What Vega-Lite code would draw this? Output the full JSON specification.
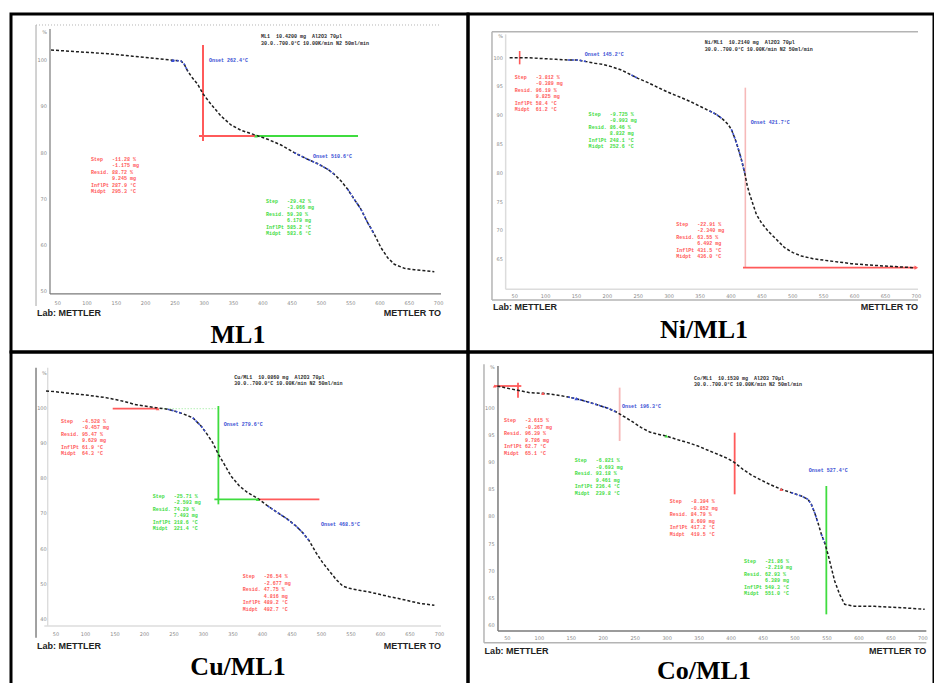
{
"$schema": "https://vega.github.io/schema/vega-lite/v6.json",
"background": "white",
"padding": {"left": 9, "top": 12, "right": 0, "bottom": 0},
"spacing": 0,
"bounds": "flush",
"columns": 2,
"config": {"view": {"stroke": "#000000", "strokeWidth": 3}},
"concat": [
{
"width": 457, "height": 338,
"encoding": {
"x": {"field": "T", "type": "quantitative", "scale": {"domain": [-29.69, 750.18], "nice": false, "zero": false}, "axis": null},
"y": {"field": "W", "type": "quantitative", "scale": {"domain": [36.86, 110.02], "nice": false, "zero": false}, "axis": null},
"color": {"field": "k", "type": "nominal", "legend": null, "scale": {"domain": ["frame","faint","axis","red","green","blue","pink","ltgreen","ink"], "range": ["#b4b4b4","#dcdcdc","#7a7a7a","#ff5a5a","#3fdc3f","#3b4fd4","#f6b9b9","#a6eea6","#2b2b2b"]}}
},
"layer": [
{"data": {"values": [
{"T": 13.0, "W": 107.64, "T2": 13.0, "W2": 46.82, "k": "frame"},
{"T": 36.86, "W": 106.78, "T2": 36.86, "W2": 49.42, "k": "axis"},
{"T": 36.86, "W": 49.42, "T2": 704.1, "W2": 49.42, "k": "axis"}
]}, "mark": {"type": "rule", "strokeWidth": 1.2}, "encoding": {"x2": {"field": "T2"}, "y2": {"field": "W2"}}},
{"data": {"values": [
{"T": 13.0, "W": 107.64, "T2": 704.1, "W2": 107.64, "k": "frame"}
]}, "mark": {"type": "rule", "strokeWidth": 1, "strokeDash": [1, 2]}, "encoding": {"x2": {"field": "T2"}, "y2": {"field": "W2"}}},
{"data": {"values": [
{"T": 298.0, "W": 103.31, "T2": 298.0, "W2": 82.53, "k": "red"},
{"T": 291.1, "W": 83.62, "T2": 388.4, "W2": 83.62, "k": "red"},
{"T": 388.4, "W": 83.62, "T2": 562.5, "W2": 83.62, "k": "green"}
]}, "mark": {"type": "rule", "strokeWidth": 2}, "encoding": {"x2": {"field": "T2"}, "y2": {"field": "W2"}}},
{"data": {"values": [
{"T": 38.6, "W": 102.23}, {"T": 89.8, "W": 101.8}, {"T": 135.3, "W": 101.43}, {"T": 178.0, "W": 100.87}, {"T": 214.9, "W": 100.43}, {"T": 246.3, "W": 100.0}, {"T": 260.4, "W": 99.85}, {"T": 266.0, "W": 99.13}, {"T": 271.8, "W": 97.68}, {"T": 280.4, "W": 96.1}, {"T": 288.9, "W": 94.81}, {"T": 298.5, "W": 92.64}, {"T": 311.6, "W": 90.48}, {"T": 328.7, "W": 87.94}, {"T": 345.7, "W": 86.0}, {"T": 362.8, "W": 84.85}, {"T": 388.4, "W": 83.77}, {"T": 408.4, "W": 82.9}, {"T": 431.1, "W": 81.67}, {"T": 453.8, "W": 80.0}, {"T": 476.6, "W": 78.57}, {"T": 493.7, "W": 77.62}, {"T": 510.8, "W": 76.41}, {"T": 522.0, "W": 75.33}, {"T": 533.5, "W": 73.88}, {"T": 544.9, "W": 72.08}, {"T": 556.1, "W": 69.91}, {"T": 567.6, "W": 67.75}, {"T": 579.0, "W": 64.85}, {"T": 590.3, "W": 62.34}, {"T": 601.7, "W": 59.44}, {"T": 613.1, "W": 57.27}, {"T": 624.4, "W": 55.85}, {"T": 641.5, "W": 54.98}, {"T": 658.5, "W": 54.68}, {"T": 692.7, "W": 54.24}
]}, "mark": {"type": "line", "strokeWidth": 1.5, "strokeDash": [3, 2]}, "encoding": {"color": {"value": "#1e1e1e"}}},
{"data": {"values": [
{"s": "a", "T": 246.3, "W": 100.0}, {"s": "a", "T": 260.4, "W": 99.85}, {"s": "a", "T": 266.0, "W": 99.13}, {"s": "a", "T": 271.8, "W": 97.68},
{"s": "b", "T": 453.8, "W": 80.0}, {"s": "b", "T": 476.6, "W": 78.57}, {"s": "b", "T": 493.7, "W": 77.62}, {"s": "b", "T": 510.8, "W": 76.41}, {"s": "b", "T": 522.0, "W": 75.33},
{"s": "c", "T": 544.9, "W": 72.08}, {"s": "c", "T": 556.1, "W": 69.91}, {"s": "c", "T": 567.6, "W": 67.75}, {"s": "c", "T": 579.0, "W": 64.85}, {"s": "c", "T": 590.3, "W": 62.34}
]}, "mark": {"type": "line", "strokeWidth": 1.6, "strokeDash": [2, 2]}, "encoding": {"color": {"value": "#3b4fd4"}, "detail": {"field": "s"}}},
{"data": {"values": [
{"T": 388.4, "W": 83.62, "k": "green"}, {"T": 246.3, "W": 100.0, "k": "blue"}
]}, "mark": {"type": "point", "shape": "triangle-up", "filled": true, "size": 14, "opacity": 1}},
{"data": {"values": [
{"T": 50, "W": 47.47, "txt": "50"}, {"T": 100, "W": 47.47, "txt": "100"}, {"T": 150, "W": 47.47, "txt": "150"}, {"T": 200, "W": 47.47, "txt": "200"}, {"T": 250, "W": 47.47, "txt": "250"}, {"T": 300, "W": 47.47, "txt": "300"}, {"T": 350, "W": 47.47, "txt": "350"}, {"T": 400, "W": 47.47, "txt": "400"}, {"T": 450, "W": 47.47, "txt": "450"}, {"T": 500, "W": 47.47, "txt": "500"}, {"T": 550, "W": 47.47, "txt": "550"}, {"T": 600, "W": 47.47, "txt": "600"}, {"T": 650, "W": 47.47, "txt": "650"}, {"T": 700, "W": 47.47, "txt": "700"}
]}, "mark": {"type": "text", "font": "DejaVu Sans", "fontSize": 5, "align": "center", "baseline": "middle"}, "encoding": {"text": {"field": "txt"}, "color": {"value": "#8a8a8a"}}},
{"data": {"values": [
{"T": 31.74, "W": 106.13, "txt": "%"}, {"T": 31.74, "W": 100, "txt": "100"}, {"T": 31.74, "W": 90, "txt": "90"}, {"T": 31.74, "W": 80, "txt": "80"}, {"T": 31.74, "W": 70, "txt": "70"}, {"T": 31.74, "W": 60, "txt": "60"}, {"T": 31.74, "W": 50, "txt": "50"}
]}, "mark": {"type": "text", "font": "DejaVu Sans", "fontSize": 5, "align": "right", "baseline": "middle"}, "encoding": {"text": {"field": "txt"}, "color": {"value": "#8a8a8a"}}},
{"data": {"values": [
{"T": 396.9, "W": 105.69, "k": "ink", "txt": "ML1\u00a0\u00a010.4200 mg\u00a0\u00a0Al2O3 70µl\n30.0..700.0°C 10.00K/min N2 50ml/min"},
{"T": 106.8, "W": 79.07, "k": "red", "txt": "Step\u00a0\u00a0\u00a0-11.28 %\n\u200b\u00a0\u00a0\u00a0\u00a0\u00a0\u00a0\u00a0-1.175 mg\nResid. 88.72 %\n\u200b\u00a0\u00a0\u00a0\u00a0\u00a0\u00a0\u00a09.245 mg\nInflPt 287.9 °C\nMidpt\u00a0\u00a0295.3 °C"},
{"T": 405.5, "W": 69.98, "k": "green", "txt": "Step\u00a0\u00a0\u00a0-29.42 %\n\u200b\u00a0\u00a0\u00a0\u00a0\u00a0\u00a0\u00a0-3.066 mg\nResid. 59.30 %\n\u200b\u00a0\u00a0\u00a0\u00a0\u00a0\u00a0\u00a06.179 mg\nInflPt 585.2 °C\nMidpt\u00a0\u00a0583.6 °C"}
]}, "mark": {"type": "text", "font": "Liberation Mono", "fontWeight": "bold", "fontSize": 5, "align": "left", "baseline": "top", "lineBreak": "\n", "lineHeight": 6.5}, "encoding": {"text": {"field": "txt"}}},
{"data": {"values": [
{"T": 308.2, "W": 100.07, "k": "blue", "txt": "Onset 262.4°C"},
{"T": 485.7, "W": 79.29, "k": "blue", "txt": "Onset 510.6°C"}
]}, "mark": {"type": "text", "font": "Liberation Mono", "fontWeight": "bold", "fontSize": 5, "align": "left", "baseline": "middle"}, "encoding": {"text": {"field": "txt"}}},
{"data": {"values": [{"T": 14.7, "W": 45.3, "txt": "Lab: METTLER"}]}, "mark": {"type": "text", "font": "Liberation Sans", "fontWeight": "bold", "fontSize": 9, "align": "left", "baseline": "middle"}, "encoding": {"text": {"field": "txt"}, "color": {"value": "#222222"}}},
{"data": {"values": [{"T": 704.1, "W": 45.3, "txt": "METTLER TO"}]}, "mark": {"type": "text", "font": "Liberation Sans", "fontWeight": "bold", "fontSize": 9, "align": "right", "baseline": "middle"}, "encoding": {"text": {"field": "txt"}, "color": {"value": "#222222"}}},
{"data": {"values": [{"T": 357.7, "W": 38.81, "txt": "ML1"}]}, "mark": {"type": "text", "font": "Liberation Serif", "fontWeight": "bold", "fontSize": 26, "align": "center", "baseline": "alphabetic"}, "encoding": {"text": {"field": "txt"}, "color": {"value": "#000000"}}}
]
},
{
"width": 466, "height": 338,
"encoding": {
"x": {"field": "T", "type": "quantitative", "scale": {"domain": [-25.5, 728.6], "nice": false, "zero": false}, "axis": null},
"y": {"field": "W", "type": "quantitative", "scale": {"domain": [48.9, 107.58], "nice": false, "zero": false}, "axis": null},
"color": {"field": "k", "type": "nominal", "legend": null, "scale": {"domain": ["frame","faint","axis","red","green","blue","pink","ltgreen","ink"], "range": ["#b4b4b4","#dcdcdc","#7a7a7a","#ff5a5a","#3fdc3f","#3b4fd4","#f6b9b9","#a6eea6","#2b2b2b"]}}
},
"layer": [
{"data": {"values": [
{"T": 13.3, "W": 104.51, "T2": 702.7, "W2": 104.51, "k": "frame"},
{"T": 13.3, "W": 104.51, "T2": 13.3, "W2": 57.93, "k": "frame"},
{"T": 13.3, "W": 57.93, "T2": 702.7, "W2": 57.93, "k": "frame"},
{"T": 35.44, "W": 104.05, "T2": 35.44, "W2": 59.78, "k": "faint"},
{"T": 35.44, "W": 59.78, "T2": 702.7, "W2": 59.78, "k": "faint"}
]}, "mark": {"type": "rule", "strokeWidth": 1.5}, "encoding": {"x2": {"field": "T2"}, "y2": {"field": "W2"}}},
{"data": {"values": [
{"T": 58.1, "W": 101.16, "T2": 58.1, "W2": 98.84, "k": "red"},
{"T": 423.3, "W": 94.79, "T2": 423.3, "W2": 63.54, "k": "pink"},
{"T": 419.5, "W": 63.54, "T2": 700.0, "W2": 63.54, "k": "red"}
]}, "mark": {"type": "rule", "strokeWidth": 1.6}, "encoding": {"x2": {"field": "T2"}, "y2": {"field": "W2"}}},
{"data": {"values": [
{"T": 41.9, "W": 100.0}, {"T": 68.9, "W": 100.0}, {"T": 117.4, "W": 99.71}, {"T": 136.3, "W": 99.59}, {"T": 152.5, "W": 99.59}, {"T": 166.0, "W": 99.31}, {"T": 179.5, "W": 99.02}, {"T": 192.9, "W": 98.84}, {"T": 206.4, "W": 98.44}, {"T": 222.6, "W": 97.86}, {"T": 238.8, "W": 96.99}, {"T": 249.6, "W": 96.41}, {"T": 265.8, "W": 95.66}, {"T": 284.6, "W": 94.68}, {"T": 303.5, "W": 93.75}, {"T": 319.7, "W": 93.06}, {"T": 335.9, "W": 92.3}, {"T": 352.1, "W": 91.44}, {"T": 365.5, "W": 90.74}, {"T": 376.3, "W": 90.16}, {"T": 387.1, "W": 89.29}, {"T": 395.2, "W": 88.43}, {"T": 400.6, "W": 87.56}, {"T": 406.0, "W": 86.11}, {"T": 411.4, "W": 84.37}, {"T": 416.8, "W": 82.35}, {"T": 422.2, "W": 80.03}, {"T": 426.5, "W": 77.72}, {"T": 430.3, "W": 76.27}, {"T": 435.7, "W": 74.54}, {"T": 441.1, "W": 72.8}, {"T": 449.2, "W": 71.35}, {"T": 459.9, "W": 69.91}, {"T": 473.4, "W": 68.46}, {"T": 486.9, "W": 67.01}, {"T": 500.4, "W": 66.15}, {"T": 513.9, "W": 65.57}, {"T": 532.8, "W": 65.1}, {"T": 551.6, "W": 64.82}, {"T": 573.2, "W": 64.53}, {"T": 594.8, "W": 64.24}, {"T": 621.8, "W": 64.01}, {"T": 648.7, "W": 63.83}, {"T": 675.7, "W": 63.66}, {"T": 694.6, "W": 63.54}
]}, "mark": {"type": "line", "strokeWidth": 1.5, "strokeDash": [3, 2]}, "encoding": {"color": {"value": "#1e1e1e"}}},
{"data": {"values": [
{"s": "a", "T": 136.3, "W": 99.59}, {"s": "a", "T": 152.5, "W": 99.59}, {"s": "a", "T": 166.0, "W": 99.31},
{"s": "b", "T": 238.8, "W": 96.99}, {"s": "b", "T": 249.6, "W": 96.41},
{"s": "c", "T": 365.5, "W": 90.74}, {"s": "c", "T": 376.3, "W": 90.16}, {"s": "c", "T": 387.1, "W": 89.29},
{"s": "d", "T": 400.6, "W": 87.56}, {"s": "d", "T": 406.0, "W": 86.11}, {"s": "d", "T": 411.4, "W": 84.37}, {"s": "d", "T": 416.8, "W": 82.35}, {"s": "d", "T": 422.2, "W": 80.03}
]}, "mark": {"type": "line", "strokeWidth": 1.6, "strokeDash": [2, 2]}, "encoding": {"color": {"value": "#3b4fd4"}, "detail": {"field": "s"}}},
{"data": {"values": [
{"T": 700.0, "W": 63.54, "k": "red"}
]}, "mark": {"type": "point", "shape": "triangle-right", "filled": true, "size": 18, "opacity": 1}},
{"data": {"values": [
{"T": 50, "W": 58.62, "txt": "50"}, {"T": 100, "W": 58.62, "txt": "100"}, {"T": 150, "W": 58.62, "txt": "150"}, {"T": 200, "W": 58.62, "txt": "200"}, {"T": 250, "W": 58.62, "txt": "250"}, {"T": 300, "W": 58.62, "txt": "300"}, {"T": 350, "W": 58.62, "txt": "350"}, {"T": 400, "W": 58.62, "txt": "400"}, {"T": 450, "W": 58.62, "txt": "450"}, {"T": 500, "W": 58.62, "txt": "500"}, {"T": 550, "W": 58.62, "txt": "550"}, {"T": 600, "W": 58.62, "txt": "600"}, {"T": 650, "W": 58.62, "txt": "650"}, {"T": 700, "W": 58.62, "txt": "700"}
]}, "mark": {"type": "text", "font": "DejaVu Sans", "fontSize": 5, "align": "center", "baseline": "middle"}, "encoding": {"text": {"field": "txt"}, "color": {"value": "#8a8a8a"}}},
{"data": {"values": [
{"T": 31.12, "W": 103.76, "txt": "%"}, {"T": 31.12, "W": 100, "txt": "100"}, {"T": 31.12, "W": 95, "txt": "95"}, {"T": 31.12, "W": 90, "txt": "90"}, {"T": 31.12, "W": 85, "txt": "85"}, {"T": 31.12, "W": 80, "txt": "80"}, {"T": 31.12, "W": 75, "txt": "75"}, {"T": 31.12, "W": 70, "txt": "70"}, {"T": 31.12, "W": 65, "txt": "65"}
]}, "mark": {"type": "text", "font": "DejaVu Sans", "fontSize": 5, "align": "right", "baseline": "middle"}, "encoding": {"text": {"field": "txt"}, "color": {"value": "#8a8a8a"}}},
{"data": {"values": [
{"T": 357.5, "W": 103.01, "k": "ink", "txt": "Ni/ML1\u00a0\u00a010.2140 mg\u00a0\u00a0Al2O3 70µl\n30.0..700.0°C 10.00K/min N2 50ml/min"},
{"T": 50.0, "W": 96.99, "k": "red", "txt": "Step\u00a0\u00a0\u00a0-3.812 %\n\u200b\u00a0\u00a0\u00a0\u00a0\u00a0\u00a0\u00a0-0.389 mg\nResid. 96.19 %\n\u200b\u00a0\u00a0\u00a0\u00a0\u00a0\u00a0\u00a09.825 mg\nInflPt 58.4 °C\nMidpt\u00a0\u00a061.2 °C"},
{"T": 169.7, "W": 90.63, "k": "green", "txt": "Step\u00a0\u00a0\u00a0-9.725 %\n\u200b\u00a0\u00a0\u00a0\u00a0\u00a0\u00a0\u00a0-0.993 mg\nResid. 86.46 %\n\u200b\u00a0\u00a0\u00a0\u00a0\u00a0\u00a0\u00a08.832 mg\nInflPt 248.1 °C\nMidpt\u00a0\u00a0252.6 °C"},
{"T": 311.6, "W": 71.5, "k": "red", "txt": "Step\u00a0\u00a0\u00a0-22.91 %\n\u200b\u00a0\u00a0\u00a0\u00a0\u00a0\u00a0\u00a0-2.340 mg\nResid. 63.55 %\n\u200b\u00a0\u00a0\u00a0\u00a0\u00a0\u00a0\u00a06.492 mg\nInflPt 431.5 °C\nMidpt\u00a0\u00a0436.0 °C"}
]}, "mark": {"type": "text", "font": "Liberation Mono", "fontWeight": "bold", "fontSize": 5, "align": "left", "baseline": "top", "lineBreak": "\n", "lineHeight": 6.5}, "encoding": {"text": {"field": "txt"}}},
{"data": {"values": [
{"T": 163.3, "W": 100.58, "k": "blue", "txt": "Onset 145.2°C"},
{"T": 431.9, "W": 88.89, "k": "blue", "txt": "Onset 421.7°C"}
]}, "mark": {"type": "text", "font": "Liberation Mono", "fontWeight": "bold", "fontSize": 5, "align": "left", "baseline": "middle"}, "encoding": {"text": {"field": "txt"}}},
{"data": {"values": [{"T": 14.9, "W": 56.71, "txt": "Lab: METTLER"}]}, "mark": {"type": "text", "font": "Liberation Sans", "fontWeight": "bold", "fontSize": 9, "align": "left", "baseline": "middle"}, "encoding": {"text": {"field": "txt"}, "color": {"value": "#222222"}}},
{"data": {"values": [{"T": 702.7, "W": 56.71, "txt": "METTLER TO"}]}, "mark": {"type": "text", "font": "Liberation Sans", "fontWeight": "bold", "fontSize": 9, "align": "right", "baseline": "middle"}, "encoding": {"text": {"field": "txt"}, "color": {"value": "#222222"}}},
{"data": {"values": [{"T": 356.4, "W": 51.33, "txt": "Ni/ML1"}]}, "mark": {"type": "text", "font": "Liberation Serif", "fontWeight": "bold", "fontSize": 26, "align": "center", "baseline": "alphabetic"}, "encoding": {"text": {"field": "txt"}, "color": {"value": "#000000"}}}
]
},
{
"width": 457, "height": 334,
"encoding": {
"x": {"field": "T", "type": "quantitative", "scale": {"domain": [-26.3, 748.3], "nice": false, "zero": false}, "axis": null},
"y": {"field": "W", "type": "quantitative", "scale": {"domain": [21.08, 115.78], "nice": false, "zero": false}, "axis": null},
"color": {"field": "k", "type": "nominal", "legend": null, "scale": {"domain": ["frame","faint","axis","red","green","blue","pink","ltgreen","ink"], "range": ["#b4b4b4","#dcdcdc","#7a7a7a","#ff5a5a","#3fdc3f","#3b4fd4","#f6b9b9","#a6eea6","#2b2b2b"]}}
},
"layer": [
{"data": {"values": [
{"T": 16.1, "W": 111.34, "T2": 16.1, "W2": 34.78, "k": "axis"},
{"T": 35.9, "W": 111.34, "T2": 35.9, "W2": 38.09, "k": "faint"},
{"T": 30.2, "W": 38.09, "T2": 702.6, "W2": 38.09, "k": "faint"}
]}, "mark": {"type": "rule", "strokeWidth": 1.4}, "encoding": {"x2": {"field": "T2"}, "y2": {"field": "W2"}}},
{"data": {"values": [
{"T": 222.3, "W": 99.72, "T2": 326.9, "W2": 99.72, "k": "ltgreen"}
]}, "mark": {"type": "rule", "strokeWidth": 1.2, "strokeDash": [1, 2]}, "encoding": {"x2": {"field": "T2"}, "y2": {"field": "W2"}}},
{"data": {"values": [
{"T": 146.1, "W": 99.72, "T2": 222.3, "W2": 99.72, "k": "red"},
{"T": 325.2, "W": 100.47, "T2": 325.2, "W2": 72.59, "k": "green"},
{"T": 318.4, "W": 74.0, "T2": 391.8, "W2": 74.0, "k": "green"},
{"T": 391.8, "W": 74.0, "T2": 496.4, "W2": 74.0, "k": "red"}
]}, "mark": {"type": "rule", "strokeWidth": 1.8}, "encoding": {"x2": {"field": "T2"}, "y2": {"field": "W2"}}},
{"data": {"values": [
{"T": 33.1, "W": 104.73}, {"T": 47.2, "W": 104.54}, {"T": 78.3, "W": 103.97}, {"T": 104.8, "W": 103.5}, {"T": 134.8, "W": 102.84}, {"T": 154.5, "W": 102.17}, {"T": 168.7, "W": 101.61}, {"T": 182.8, "W": 100.95}, {"T": 199.7, "W": 100.47}, {"T": 219.5, "W": 100.0}, {"T": 239.3, "W": 99.53}, {"T": 250.6, "W": 99.05}, {"T": 264.7, "W": 98.3}, {"T": 281.7, "W": 97.16}, {"T": 295.8, "W": 94.8}, {"T": 304.3, "W": 92.91}, {"T": 315.6, "W": 90.08}, {"T": 325.2, "W": 86.77}, {"T": 335.3, "W": 83.93}, {"T": 346.6, "W": 80.62}, {"T": 360.8, "W": 77.79}, {"T": 374.9, "W": 75.9}, {"T": 391.8, "W": 74.29}, {"T": 408.8, "W": 72.12}, {"T": 425.7, "W": 70.23}, {"T": 442.7, "W": 68.34}, {"T": 456.8, "W": 66.44}, {"T": 468.1, "W": 64.56}, {"T": 479.4, "W": 62.19}, {"T": 490.7, "W": 58.88}, {"T": 502.0, "W": 56.05}, {"T": 513.3, "W": 53.69}, {"T": 524.6, "W": 51.32}, {"T": 535.9, "W": 49.43}, {"T": 547.2, "W": 48.77}, {"T": 564.2, "W": 48.2}, {"T": 581.1, "W": 47.73}, {"T": 598.1, "W": 47.07}, {"T": 615.0, "W": 46.41}, {"T": 632.0, "W": 45.84}, {"T": 648.9, "W": 45.18}, {"T": 665.9, "W": 44.52}, {"T": 691.3, "W": 43.95}
]}, "mark": {"type": "line", "strokeWidth": 1.5, "strokeDash": [3, 2]}, "encoding": {"color": {"value": "#1e1e1e"}}},
{"data": {"values": [
{"s": "a", "T": 239.3, "W": 99.53}, {"s": "a", "T": 250.6, "W": 99.05}, {"s": "a", "T": 264.7, "W": 98.3},
{"s": "b", "T": 281.7, "W": 97.16}, {"s": "b", "T": 295.8, "W": 94.8}, {"s": "b", "T": 304.3, "W": 92.91},
{"s": "c", "T": 408.8, "W": 72.12}, {"s": "c", "T": 425.7, "W": 70.23}, {"s": "c", "T": 442.7, "W": 68.34}, {"s": "c", "T": 456.8, "W": 66.44}, {"s": "c", "T": 468.1, "W": 64.56}, {"s": "c", "T": 479.4, "W": 62.19}
]}, "mark": {"type": "line", "strokeWidth": 1.6, "strokeDash": [2, 2]}, "encoding": {"color": {"value": "#3b4fd4"}, "detail": {"field": "s"}}},
{"data": {"values": [
{"T": 222.3, "W": 99.72, "k": "red"}, {"T": 391.8, "W": 74.0, "k": "green"}
]}, "mark": {"type": "point", "shape": "triangle-up", "filled": true, "size": 14, "opacity": 1}},
{"data": {"values": [
{"T": 50, "W": 35.91, "txt": "50"}, {"T": 100, "W": 35.91, "txt": "100"}, {"T": 150, "W": 35.91, "txt": "150"}, {"T": 200, "W": 35.91, "txt": "200"}, {"T": 250, "W": 35.91, "txt": "250"}, {"T": 300, "W": 35.91, "txt": "300"}, {"T": 350, "W": 35.91, "txt": "350"}, {"T": 400, "W": 35.91, "txt": "400"}, {"T": 450, "W": 35.91, "txt": "450"}, {"T": 500, "W": 35.91, "txt": "500"}, {"T": 550, "W": 35.91, "txt": "550"}, {"T": 600, "W": 35.91, "txt": "600"}, {"T": 650, "W": 35.91, "txt": "650"}, {"T": 700, "W": 35.91, "txt": "700"}
]}, "mark": {"type": "text", "font": "DejaVu Sans", "fontSize": 5, "align": "center", "baseline": "middle"}, "encoding": {"text": {"field": "txt"}, "color": {"value": "#8a8a8a"}}},
{"data": {"values": [
{"T": 34.2, "W": 109.92, "txt": "%"}, {"T": 34.2, "W": 100, "txt": "100"}, {"T": 34.2, "W": 90, "txt": "90"}, {"T": 34.2, "W": 80, "txt": "80"}, {"T": 34.2, "W": 70, "txt": "70"}, {"T": 34.2, "W": 60, "txt": "60"}, {"T": 34.2, "W": 50, "txt": "50"}, {"T": 34.2, "W": 40, "txt": "40"}
]}, "mark": {"type": "text", "font": "DejaVu Sans", "fontSize": 5, "align": "right", "baseline": "middle"}, "encoding": {"text": {"field": "txt"}, "color": {"value": "#8a8a8a"}}},
{"data": {"values": [
{"T": 352.3, "W": 109.4, "k": "ink", "txt": "Cu/ML1\u00a0\u00a010.0860 mg\u00a0\u00a0Al2O3 70µl\n30.0..700.0°C 10.00K/min N2 50ml/min"},
{"T": 58.5, "W": 96.79, "k": "red", "txt": "Step\u00a0\u00a0\u00a0-4.528 %\n\u200b\u00a0\u00a0\u00a0\u00a0\u00a0\u00a0\u00a0-0.457 mg\nResid. 95.47 %\n\u200b\u00a0\u00a0\u00a0\u00a0\u00a0\u00a0\u00a09.629 mg\nInflPt 61.9 °C\nMidpt\u00a0\u00a064.3 °C"},
{"T": 213.9, "W": 75.66, "k": "green", "txt": "Step\u00a0\u00a0\u00a0-25.71 %\n\u200b\u00a0\u00a0\u00a0\u00a0\u00a0\u00a0\u00a0-2.593 mg\nResid. 74.29 %\n\u200b\u00a0\u00a0\u00a0\u00a0\u00a0\u00a0\u00a07.493 mg\nInflPt 318.6 °C\nMidpt\u00a0\u00a0321.4 °C"},
{"T": 366.4, "W": 52.83, "k": "red", "txt": "Step\u00a0\u00a0\u00a0-26.54 %\n\u200b\u00a0\u00a0\u00a0\u00a0\u00a0\u00a0\u00a0-2.677 mg\nResid. 47.75 %\n\u200b\u00a0\u00a0\u00a0\u00a0\u00a0\u00a0\u00a04.816 mg\nInflPt 489.2 °C\nMidpt\u00a0\u00a0492.7 °C"}
]}, "mark": {"type": "text", "font": "Liberation Mono", "fontWeight": "bold", "fontSize": 5, "align": "left", "baseline": "top", "lineBreak": "\n", "lineHeight": 6.5}, "encoding": {"text": {"field": "txt"}}},
{"data": {"values": [
{"T": 334.2, "W": 95.27, "k": "blue", "txt": "Onset 279.6°C"},
{"T": 499.2, "W": 67.11, "k": "blue", "txt": "Onset 468.5°C"}
]}, "mark": {"type": "text", "font": "Liberation Mono", "fontWeight": "bold", "fontSize": 5, "align": "left", "baseline": "middle"}, "encoding": {"text": {"field": "txt"}}},
{"data": {"values": [{"T": 17.8, "W": 32.42, "txt": "Lab: METTLER"}]}, "mark": {"type": "text", "font": "Liberation Sans", "fontWeight": "bold", "fontSize": 9, "align": "left", "baseline": "middle"}, "encoding": {"text": {"field": "txt"}, "color": {"value": "#222222"}}},
{"data": {"values": [{"T": 702.6, "W": 32.42, "txt": "METTLER TO"}]}, "mark": {"type": "text", "font": "Liberation Sans", "fontWeight": "bold", "fontSize": 9, "align": "right", "baseline": "middle"}, "encoding": {"text": {"field": "txt"}, "color": {"value": "#222222"}}},
{"data": {"values": [{"T": 358.5, "W": 24.19, "txt": "Cu/ML1"}]}, "mark": {"type": "text", "font": "Liberation Serif", "fontWeight": "bold", "fontSize": 26, "align": "center", "baseline": "alphabetic"}, "encoding": {"text": {"field": "txt"}, "color": {"value": "#000000"}}}
]
},
{
"width": 466, "height": 334,
"encoding": {
"x": {"field": "T", "type": "quantitative", "scale": {"domain": [-11.5, 717.4], "nice": false, "zero": false}, "axis": null},
"y": {"field": "W", "type": "quantitative", "scale": {"domain": [48.84, 110.23], "nice": false, "zero": false}, "axis": null},
"color": {"field": "k", "type": "nominal", "legend": null, "scale": {"domain": ["frame","faint","axis","red","green","blue","pink","ltgreen","ink"], "range": ["#b4b4b4","#dcdcdc","#7a7a7a","#ff5a5a","#3fdc3f","#3b4fd4","#f6b9b9","#a6eea6","#2b2b2b"]}}
},
"layer": [
{"data": {"values": [
{"T": 13.5, "W": 107.97, "T2": 13.5, "W2": 56.8, "k": "frame"},
{"T": 13.5, "W": 56.8, "T2": 705.4, "W2": 56.8, "k": "frame"},
{"T": 35.4, "W": 107.66, "T2": 35.4, "W2": 58.95, "k": "axis"},
{"T": 35.4, "W": 58.95, "T2": 705.4, "W2": 58.95, "k": "axis"}
]}, "mark": {"type": "rule", "strokeWidth": 1.5}, "encoding": {"x2": {"field": "T2"}, "y2": {"field": "W2"}}},
{"data": {"values": [
{"T": 30.2, "W": 103.98, "T2": 71.9, "W2": 103.98, "k": "red"},
{"T": 66.7, "W": 104.6, "T2": 66.7, "W2": 101.84, "k": "red"},
{"T": 225.7, "W": 103.68, "T2": 225.7, "W2": 93.87, "k": "pink"},
{"T": 405.6, "W": 95.4, "T2": 405.6, "W2": 84.07, "k": "red"},
{"T": 549.0, "W": 85.6, "T2": 549.0, "W2": 62.01, "k": "green"}
]}, "mark": {"type": "rule", "strokeWidth": 1.8}, "encoding": {"x2": {"field": "T2"}, "y2": {"field": "W2"}}},
{"data": {"values": [
{"T": 34.4, "W": 103.98}, {"T": 51.0, "W": 103.55}, {"T": 66.7, "W": 103.19}, {"T": 84.9, "W": 102.76}, {"T": 105.8, "W": 102.63}, {"T": 124.0, "W": 102.39}, {"T": 144.9, "W": 101.96}, {"T": 157.9, "W": 101.65}, {"T": 176.2, "W": 101.04}, {"T": 191.8, "W": 100.49}, {"T": 207.5, "W": 99.88}, {"T": 220.5, "W": 99.2}, {"T": 230.9, "W": 98.47}, {"T": 244.0, "W": 97.55}, {"T": 259.6, "W": 96.32}, {"T": 272.6, "W": 95.53}, {"T": 285.7, "W": 95.1}, {"T": 298.7, "W": 94.79}, {"T": 314.4, "W": 94.18}, {"T": 332.6, "W": 93.57}, {"T": 348.2, "W": 92.95}, {"T": 363.9, "W": 92.16}, {"T": 379.5, "W": 91.42}, {"T": 395.2, "W": 90.63}, {"T": 405.6, "W": 89.89}, {"T": 418.6, "W": 88.66}, {"T": 431.7, "W": 87.62}, {"T": 444.7, "W": 86.83}, {"T": 460.3, "W": 85.91}, {"T": 478.6, "W": 84.99}, {"T": 494.2, "W": 84.38}, {"T": 509.9, "W": 83.76}, {"T": 520.3, "W": 83.15}, {"T": 525.5, "W": 82.23}, {"T": 530.7, "W": 80.7}, {"T": 535.9, "W": 78.86}, {"T": 541.2, "W": 76.72}, {"T": 546.4, "W": 75.19}, {"T": 551.6, "W": 73.04}, {"T": 556.8, "W": 70.59}, {"T": 562.0, "W": 68.14}, {"T": 569.8, "W": 65.69}, {"T": 577.7, "W": 63.85}, {"T": 593.3, "W": 63.48}, {"T": 624.6, "W": 63.48}, {"T": 666.3, "W": 63.24}, {"T": 702.8, "W": 62.93}
]}, "mark": {"type": "line", "strokeWidth": 1.5, "strokeDash": [3, 2]}, "encoding": {"color": {"value": "#1e1e1e"}}},
{"data": {"values": [
{"s": "a", "T": 144.9, "W": 101.96}, {"s": "a", "T": 157.9, "W": 101.65}, {"s": "a", "T": 176.2, "W": 101.04}, {"s": "a", "T": 191.8, "W": 100.49}, {"s": "a", "T": 207.5, "W": 99.88}, {"s": "a", "T": 220.5, "W": 99.2},
{"s": "b", "T": 494.2, "W": 84.38}, {"s": "b", "T": 509.9, "W": 83.76}, {"s": "b", "T": 520.3, "W": 83.15}, {"s": "b", "T": 525.5, "W": 82.23}, {"s": "b", "T": 530.7, "W": 80.7}, {"s": "b", "T": 535.9, "W": 78.86},
{"s": "c", "T": 541.2, "W": 76.72}, {"s": "c", "T": 546.4, "W": 75.19}
]}, "mark": {"type": "line", "strokeWidth": 1.6, "strokeDash": [2, 2]}, "encoding": {"color": {"value": "#3b4fd4"}, "detail": {"field": "s"}}},
{"data": {"values": [
{"T": 30.2, "W": 103.98, "k": "red"}, {"T": 105.8, "W": 102.63, "k": "red"}, {"T": 298.7, "W": 94.79, "k": "green"}, {"T": 478.6, "W": 84.99, "k": "red"}, {"T": 157.9, "W": 101.65, "k": "blue"}
]}, "mark": {"type": "point", "shape": "triangle-up", "filled": true, "size": 14, "opacity": 1}},
{"data": {"values": [
{"T": 50, "W": 57.72, "txt": "50"}, {"T": 100, "W": 57.72, "txt": "100"}, {"T": 150, "W": 57.72, "txt": "150"}, {"T": 200, "W": 57.72, "txt": "200"}, {"T": 250, "W": 57.72, "txt": "250"}, {"T": 300, "W": 57.72, "txt": "300"}, {"T": 350, "W": 57.72, "txt": "350"}, {"T": 400, "W": 57.72, "txt": "400"}, {"T": 450, "W": 57.72, "txt": "450"}, {"T": 500, "W": 57.72, "txt": "500"}, {"T": 550, "W": 57.72, "txt": "550"}, {"T": 600, "W": 57.72, "txt": "600"}, {"T": 650, "W": 57.72, "txt": "650"}, {"T": 700, "W": 57.72, "txt": "700"}
]}, "mark": {"type": "text", "font": "DejaVu Sans", "fontSize": 5, "align": "center", "baseline": "middle"}, "encoding": {"text": {"field": "txt"}, "color": {"value": "#8a8a8a"}}},
{"data": {"values": [
{"T": 30.2, "W": 107.47, "txt": "%"}, {"T": 30.2, "W": 100, "txt": "100"}, {"T": 30.2, "W": 95, "txt": "95"}, {"T": 30.2, "W": 90, "txt": "90"}, {"T": 30.2, "W": 85, "txt": "85"}, {"T": 30.2, "W": 80, "txt": "80"}, {"T": 30.2, "W": 75, "txt": "75"}, {"T": 30.2, "W": 70, "txt": "70"}, {"T": 30.2, "W": 65, "txt": "65"}, {"T": 30.2, "W": 60, "txt": "60"}
]}, "mark": {"type": "text", "font": "DejaVu Sans", "fontSize": 5, "align": "right", "baseline": "middle"}, "encoding": {"text": {"field": "txt"}, "color": {"value": "#8a8a8a"}}},
{"data": {"values": [
{"T": 342.0, "W": 105.85, "k": "ink", "txt": "Co/ML1\u00a0\u00a010.1530 mg\u00a0\u00a0Al2O3 70µl\n30.0..700.0°C 10.00K/min N2 50ml/min"},
{"T": 44.8, "W": 98.01, "k": "red", "txt": "Step\u00a0\u00a0\u00a0-3.615 %\n\u200b\u00a0\u00a0\u00a0\u00a0\u00a0\u00a0\u00a0-0.367 mg\nResid. 96.39 %\n\u200b\u00a0\u00a0\u00a0\u00a0\u00a0\u00a0\u00a09.786 mg\nInflPt 62.7 °C\nMidpt\u00a0\u00a065.1 °C"},
{"T": 155.3, "W": 90.66, "k": "green", "txt": "Step\u00a0\u00a0\u00a0-6.821 %\n\u200b\u00a0\u00a0\u00a0\u00a0\u00a0\u00a0\u00a0-0.693 mg\nResid. 93.18 %\n\u200b\u00a0\u00a0\u00a0\u00a0\u00a0\u00a0\u00a09.461 mg\nInflPt 236.4 °C\nMidpt\u00a0\u00a0239.8 °C"},
{"T": 303.9, "W": 83.21, "k": "red", "txt": "Step\u00a0\u00a0\u00a0-8.394 %\n\u200b\u00a0\u00a0\u00a0\u00a0\u00a0\u00a0\u00a0-0.852 mg\nResid. 84.79 %\n\u200b\u00a0\u00a0\u00a0\u00a0\u00a0\u00a0\u00a08.609 mg\nInflPt 417.2 °C\nMidpt\u00a0\u00a0419.5 °C"},
{"T": 420.2, "W": 72.27, "k": "green", "txt": "Step\u00a0\u00a0\u00a0-21.86 %\n\u200b\u00a0\u00a0\u00a0\u00a0\u00a0\u00a0\u00a0-2.219 mg\nResid. 62.93 %\n\u200b\u00a0\u00a0\u00a0\u00a0\u00a0\u00a0\u00a06.389 mg\nInflPt 549.3 °C\nMidpt\u00a0\u00a0551.0 °C"}
]}, "mark": {"type": "text", "font": "Liberation Mono", "fontWeight": "bold", "fontSize": 5, "align": "left", "baseline": "top", "lineBreak": "\n", "lineHeight": 6.5}, "encoding": {"text": {"field": "txt"}}},
{"data": {"values": [
{"T": 229.4, "W": 100.31, "k": "blue", "txt": "Onset 196.3°C"},
{"T": 521.3, "W": 88.54, "k": "blue", "txt": "Onset 527.4°C"}
]}, "mark": {"type": "text", "font": "Liberation Mono", "fontWeight": "bold", "fontSize": 5, "align": "left", "baseline": "middle"}, "encoding": {"text": {"field": "txt"}}},
{"data": {"values": [{"T": 14.5, "W": 55.27, "txt": "Lab: METTLER"}]}, "mark": {"type": "text", "font": "Liberation Sans", "fontWeight": "bold", "fontSize": 9, "align": "left", "baseline": "middle"}, "encoding": {"text": {"field": "txt"}, "color": {"value": "#222222"}}},
{"data": {"values": [{"T": 705.4, "W": 55.27, "txt": "METTLER TO"}]}, "mark": {"type": "text", "font": "Liberation Sans", "fontWeight": "bold", "fontSize": 9, "align": "right", "baseline": "middle"}, "encoding": {"text": {"field": "txt"}, "color": {"value": "#222222"}}},
{"data": {"values": [{"T": 357.6, "W": 50.2, "txt": "Co/ML1"}]}, "mark": {"type": "text", "font": "Liberation Serif", "fontWeight": "bold", "fontSize": 26, "align": "center", "baseline": "alphabetic"}, "encoding": {"text": {"field": "txt"}, "color": {"value": "#000000"}}}
]
}
]
}
